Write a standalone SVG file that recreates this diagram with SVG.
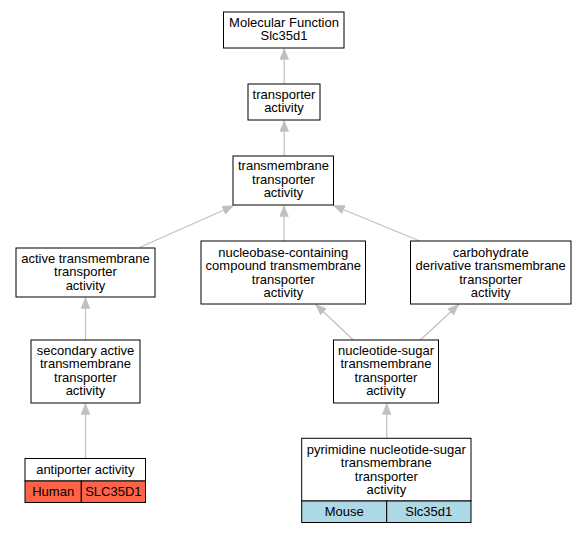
<svg xmlns="http://www.w3.org/2000/svg" width="587" height="533" viewBox="0 0 587 533">
<style>
.box{fill:#ffffff;stroke:#000000;stroke-width:1}
.human{fill:#ff6347;stroke:#000000;stroke-width:1}
.mouse{fill:#add8e6;stroke:#000000;stroke-width:1}
text{font-family:"Liberation Sans",Arial,sans-serif;font-size:13px;fill:#000000;text-anchor:middle}
.edge{stroke:#c0c0c0;stroke-width:1.2;fill:none}
</style>
<defs>
<marker id="arr" markerUnits="userSpaceOnUse" markerWidth="12" markerHeight="9" refX="11" refY="4.5" orient="auto" viewBox="0 0 12 9">
<path d="M0,0 L11,4.5 L0,9 z" fill="#c0c0c0" stroke="#c0c0c0" stroke-width="0.5"/>
</marker>
</defs>
<rect width="587" height="533" fill="#ffffff"/>
<g id="edges">
<path class="edge" d="M284.2,84 L284.2,48.5" marker-end="url(#arr)"/>
<path class="edge" d="M284.2,156 L284.2,120.5" marker-end="url(#arr)"/>
<path class="edge" d="M139.5,247.5 L233.5,205.8" marker-end="url(#arr)"/>
<path class="edge" d="M284,241 L284,205.5" marker-end="url(#arr)"/>
<path class="edge" d="M419.7,241 L333.5,205.5" marker-end="url(#arr)"/>
<path class="edge" d="M85.5,340 L85.5,297.5" marker-end="url(#arr)"/>
<path class="edge" d="M353.3,340 L315.7,304.5" marker-end="url(#arr)"/>
<path class="edge" d="M420.3,340 L458.7,304.5" marker-end="url(#arr)"/>
<path class="edge" d="M85.5,458.5 L85.5,403.5" marker-end="url(#arr)"/>
<path class="edge" d="M386.7,438 L386.7,403.5" marker-end="url(#arr)"/>
</g>
<g id="mf">
<rect class="box" x="223.5" y="12" width="120.5" height="36"/>
<text x="284" y="26.5">Molecular Function</text>
<text x="284" y="40">Slc35d1</text>
</g>
<g id="transporter">
<rect class="box" x="248" y="84" width="72" height="36"/>
<text x="284" y="98.5">transporter</text>
<text x="284" y="112">activity</text>
</g>
<g id="transmembrane">
<rect class="box" x="233" y="156" width="100.5" height="49"/>
<text x="283.5" y="170">transmembrane</text>
<text x="283.5" y="183.5">transporter</text>
<text x="283.5" y="197">activity</text>
</g>
<g id="active">
<rect class="box" x="16" y="248" width="139" height="49"/>
<text x="85.5" y="262.5">active transmembrane</text>
<text x="85.5" y="276">transporter</text>
<text x="85.5" y="289.5">activity</text>
</g>
<g id="nucleobase">
<rect class="box" x="201" y="241" width="164.5" height="63"/>
<text x="283.3" y="256.5">nucleobase-containing</text>
<text x="283.3" y="270">compound transmembrane</text>
<text x="283.3" y="283.5">transporter</text>
<text x="283.3" y="297">activity</text>
</g>
<g id="carbohydrate">
<rect class="box" x="410.5" y="241" width="160.5" height="63"/>
<text x="490.7" y="256.5">carbohydrate</text>
<text x="490.7" y="270">derivative transmembrane</text>
<text x="490.7" y="283.5">transporter</text>
<text x="490.7" y="297">activity</text>
</g>
<g id="secondary">
<rect class="box" x="31" y="340" width="109" height="63"/>
<text x="85.5" y="354.5">secondary active</text>
<text x="85.5" y="368">transmembrane</text>
<text x="85.5" y="381.5">transporter</text>
<text x="85.5" y="395">activity</text>
</g>
<g id="nucleotidesugar">
<rect class="box" x="333.5" y="340" width="105" height="63"/>
<text x="386" y="354.5">nucleotide-sugar</text>
<text x="386" y="368">transmembrane</text>
<text x="386" y="381.5">transporter</text>
<text x="386" y="395">activity</text>
</g>
<g id="antiporter">
<rect class="box" x="25" y="458.5" width="120.5" height="22.5"/>
<rect class="human" x="25" y="481" width="56.3" height="21.5"/>
<rect class="human" x="81.3" y="481" width="64.2" height="21.5"/>
<text x="85.3" y="473.5">antiporter activity</text>
<text x="53.2" y="495.5">Human</text>
<text x="113.4" y="495.5">SLC35D1</text>
</g>
<g id="pyrimidine">
<rect class="box" x="301.7" y="438.3" width="169.3" height="62.7"/>
<rect class="mouse" x="301.7" y="501" width="85" height="21.5"/>
<rect class="mouse" x="386.7" y="501" width="84.3" height="21.5"/>
<text x="386.3" y="453.5">pyrimidine nucleotide-sugar</text>
<text x="386.3" y="467">transmembrane</text>
<text x="386.3" y="480.5">transporter</text>
<text x="386.3" y="494">activity</text>
<text x="344.2" y="515.5">Mouse</text>
<text x="428.8" y="515.5">Slc35d1</text>
</g>
</svg>
